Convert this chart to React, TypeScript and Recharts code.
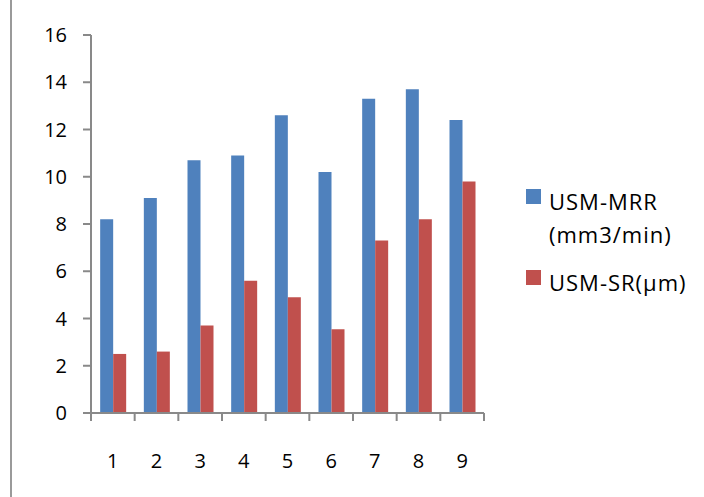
import { Bar, BarChart, Legend, XAxis, YAxis } from "recharts";

const categories = ["1", "2", "3", "4", "5", "6", "7", "8", "9"];
const mrrValues = [8.2, 9.1, 10.7, 10.9, 12.6, 10.2, 13.3, 13.7, 12.4];
const srValues = [2.5, 2.6, 3.7, 5.6, 4.9, 3.55, 7.3, 8.2, 9.8];
const yTicks = [0, 2, 4, 6, 8, 10, 12, 14, 16];

const data = categories.map((name, i) => ({ name, mrr: mrrValues[i], sr: srValues[i] }));

const AXIS = "#898989";
const FONT = "'Open Sans', sans-serif";
const X_TICK_SIZE = 8;
const X_TICK_MARGIN = 33;

// ticks sit between categories (Excel style), labels at the centre
const CategoryTick = (props: any) => {
  const { x, y, payload, index, visibleTicksCount } = props;
  const half = payload && typeof payload.offset === "number" ? payload.offset : 21.8;
  const top = y - X_TICK_MARGIN - X_TICK_SIZE;
  const bottom = y - X_TICK_MARGIN;
  return (
    <g>
      <line x1={x - half} x2={x - half} y1={top} y2={bottom} stroke={AXIS} strokeWidth={2} />
      {index === visibleTicksCount - 1 && (
        <line x1={x + half} x2={x + half} y1={top} y2={bottom} stroke={AXIS} strokeWidth={2} />
      )}
      <text x={x} y={y} dy="0.71em" textAnchor="middle" fill="#000" fontSize={20} fontFamily={FONT}>
        {payload.value}
      </text>
    </g>
  );
};

const renderLegend = (props: any) => {
  const { payload } = props;
  return (
    <div style={{ fontFamily: FONT, fontSize: 22, letterSpacing: 1, color: "#000" }}>
      {payload.map((entry: any, i: number) => (
        <div key={entry.value} style={{ display: "flex", marginTop: i === 0 ? 0 : 15 }}>
          <span
            style={{
              width: 15,
              height: 15,
              background: entry.color,
              marginTop: 4,
              marginRight: 8,
              flexShrink: 0
            }}
          />
          <span style={{ lineHeight: "33px", width: 150 }}>{entry.value}</span>
        </div>
      ))}
    </div>
  );
};

export default function App() {
  return (
    <div style={{ position: "absolute", left: 0, top: 0, width: 704, height: 497, background: "#fff" }}>
      <div
        style={{ position: "absolute", left: 10, top: 0, width: 2, height: 497, background: "#9a9a9a" }}
      />
      <BarChart
        width={704}
        height={497}
        data={data}
        margin={{ top: 35, right: 220, left: 0, bottom: 0 }}
        barCategoryGap="21%"
        barGap={0}
      >
        <XAxis
          dataKey="name"
          height={84}
          axisLine={{ stroke: AXIS, strokeWidth: 2 }}
          tickLine={false}
          tickSize={X_TICK_SIZE}
          tickMargin={X_TICK_MARGIN}
          tick={<CategoryTick />}
          interval={0}
        />
        <YAxis
          width={91}
          domain={[0, 16]}
          ticks={yTicks}
          axisLine={{ stroke: AXIS, strokeWidth: 2 }}
          tickLine={{ stroke: AXIS, strokeWidth: 2 }}
          tickSize={8}
          tickMargin={16}
          tick={{ fill: "#000", fontSize: 20, fontFamily: FONT }}
        />
        <Legend
          layout="horizontal"
          verticalAlign="middle"
          align="center"
          content={renderLegend}
          wrapperStyle={{ left: 526, top: 185, width: 178 }}
        />
        <Bar dataKey="mrr" name="USM-MRR (mm3/min)" fill="#4F81BD" isAnimationActive={false} />
        <Bar dataKey="sr" name="USM-SR(μm)" fill="#C0504D" isAnimationActive={false} />
      </BarChart>
    </div>
  );
}
